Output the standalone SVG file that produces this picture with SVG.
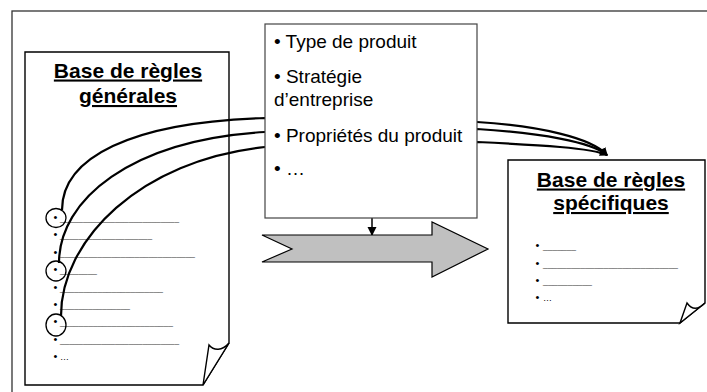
<svg xmlns="http://www.w3.org/2000/svg" width="707" height="392" viewBox="0 0 707 392">
<style>
.frame{fill:none;stroke:#333;stroke-width:1.3}
.doc{fill:#fff;stroke:#000;stroke-width:1.4}
.box{fill:#fff;stroke:#444;stroke-width:1.2}
.title{font-family:"Liberation Sans",Arial,sans-serif;font-weight:bold;font-size:21px;text-anchor:middle;text-decoration:underline;fill:#000}
.item{font-family:"Liberation Sans",Arial,sans-serif;font-size:19px;fill:#000}
.ln{font-family:"Liberation Sans",Arial,sans-serif;font-size:9px;fill:#000}
.b{font-size:11px}
.us{fill:#555}
.con{fill:none;stroke:#000;stroke-width:2.2}
.circ{fill:none;stroke:#000;stroke-width:1.3}
</style>
<defs>
<marker id="ah" markerUnits="userSpaceOnUse" markerWidth="10" markerHeight="10" refX="7" refY="4" orient="auto">
<path d="M0,0 L8,4 L0,8 Z" fill="#000"/>
</marker>
<marker id="ah2" markerUnits="userSpaceOnUse" markerWidth="10" markerHeight="10" refX="8" refY="4.5" orient="auto">
<path d="M0,0 L9,4.5 L0,9 Z" fill="#000"/>
</marker>
</defs>
<rect class="frame" x="12" y="11" width="800" height="500"/>

<g id="doc-generales">
<path class="doc" d="M25,52 H229 V343 L203,385 H25 Z"/>
<path class="doc" d="M229,343 C222,351 214,351 209,345 L203,385 Z"/>
<text class="title" x="128" y="77.5">Base de règles</text>
<text class="title" x="128" y="103">générales</text>
<g class="ln">
<text x="53.5" y="221"><tspan class="b">•</tspan><tspan class="us" x="60" textLength="119" lengthAdjust="spacingAndGlyphs">__________________________</tspan></text>
<text x="53.5" y="238.4"><tspan class="b">•</tspan><tspan class="us" x="60" textLength="92" lengthAdjust="spacingAndGlyphs">____________________</tspan></text>
<text x="53.5" y="255.8"><tspan class="b">•</tspan><tspan class="us" x="60" textLength="135" lengthAdjust="spacingAndGlyphs">_____________________________</tspan></text>
<text x="53.5" y="273.2"><tspan class="b">•</tspan><tspan class="us" x="60" textLength="37" lengthAdjust="spacingAndGlyphs">________</tspan></text>
<text x="53.5" y="290.6"><tspan class="b">•</tspan><tspan class="us" x="60" textLength="103" lengthAdjust="spacingAndGlyphs">______________________</tspan></text>
<text x="53.5" y="308"><tspan class="b">•</tspan><tspan class="us" x="60" textLength="70" lengthAdjust="spacingAndGlyphs">_______________</tspan></text>
<text x="53.5" y="325.4"><tspan class="b">•</tspan><tspan class="us" x="60" textLength="113" lengthAdjust="spacingAndGlyphs">________________________</tspan></text>
<text x="53.5" y="342.8"><tspan class="b">•</tspan><tspan class="us" x="60" textLength="119" lengthAdjust="spacingAndGlyphs">__________________________</tspan></text>
<text x="53.5" y="360.2"><tspan class="b">•</tspan><tspan x="60">…</tspan></text>
</g>
<ellipse class="circ" cx="56" cy="218" rx="10" ry="9.5"/>
<ellipse class="circ" cx="56" cy="271" rx="10" ry="10"/>
<ellipse class="circ" cx="56" cy="325" rx="10" ry="11"/>
</g>

<g id="connectors">
<path class="con" marker-end="url(#ah)" d="M62,210 C62,158 130,122 265,118 L477,122 C540,126 592,138 607,155"/>
<path class="con" marker-end="url(#ah)" d="M59,263 C59,200 130,140 265,132 L477,129 C540,133 592,142 607,155"/>
<path class="con" marker-end="url(#ah)" d="M61,316 C61,240 140,160 265,147 L477,142 C540,145 592,148 607,155"/>
<path fill="none" stroke="#000" stroke-width="1.5" marker-end="url(#ah2)" d="M372,218 V235"/>
</g>

<g id="criteres">
<rect class="box" x="265" y="24" width="212" height="194"/>
<text class="item" x="274" y="47.5">• Type de produit</text>
<text class="item" x="274" y="83">• Stratégie</text>
<text class="item" x="274" y="106">d’entreprise</text>
<text class="item" x="274" y="142">• Propriétés du produit</text>
<text class="item" x="274" y="175">• …</text>
</g>

<g id="fleche">
<path fill="#c0c0c0" stroke="#000" stroke-width="1.2" d="M262,235 H432 V222 L488,249 L432,277 V262 H262 L292,249 Z"/>
</g>

<g id="doc-specifiques">
<path class="doc" d="M508,160 H705 V303 L680,323 H508 Z"/>
<path class="doc" d="M705,303 C698,310 692,310 687,303 L680,323 Z"/>
<text class="title" x="611" y="186.5">Base de règles</text>
<text class="title" x="611" y="210">spécifiques</text>
<g class="ln">
<text x="535.5" y="248.5"><tspan class="b">•</tspan><tspan class="us" x="543" textLength="33" lengthAdjust="spacingAndGlyphs">_______</tspan></text>
<text x="535.5" y="266.5"><tspan class="b">•</tspan><tspan class="us" x="543" textLength="135" lengthAdjust="spacingAndGlyphs">_____________________________</tspan></text>
<text x="535.5" y="283.5"><tspan class="b">•</tspan><tspan class="us" x="543" textLength="49" lengthAdjust="spacingAndGlyphs">__________</tspan></text>
<text x="535.5" y="300.5"><tspan class="b">•</tspan><tspan x="543">…</tspan></text>
</g>
</g>
</svg>
